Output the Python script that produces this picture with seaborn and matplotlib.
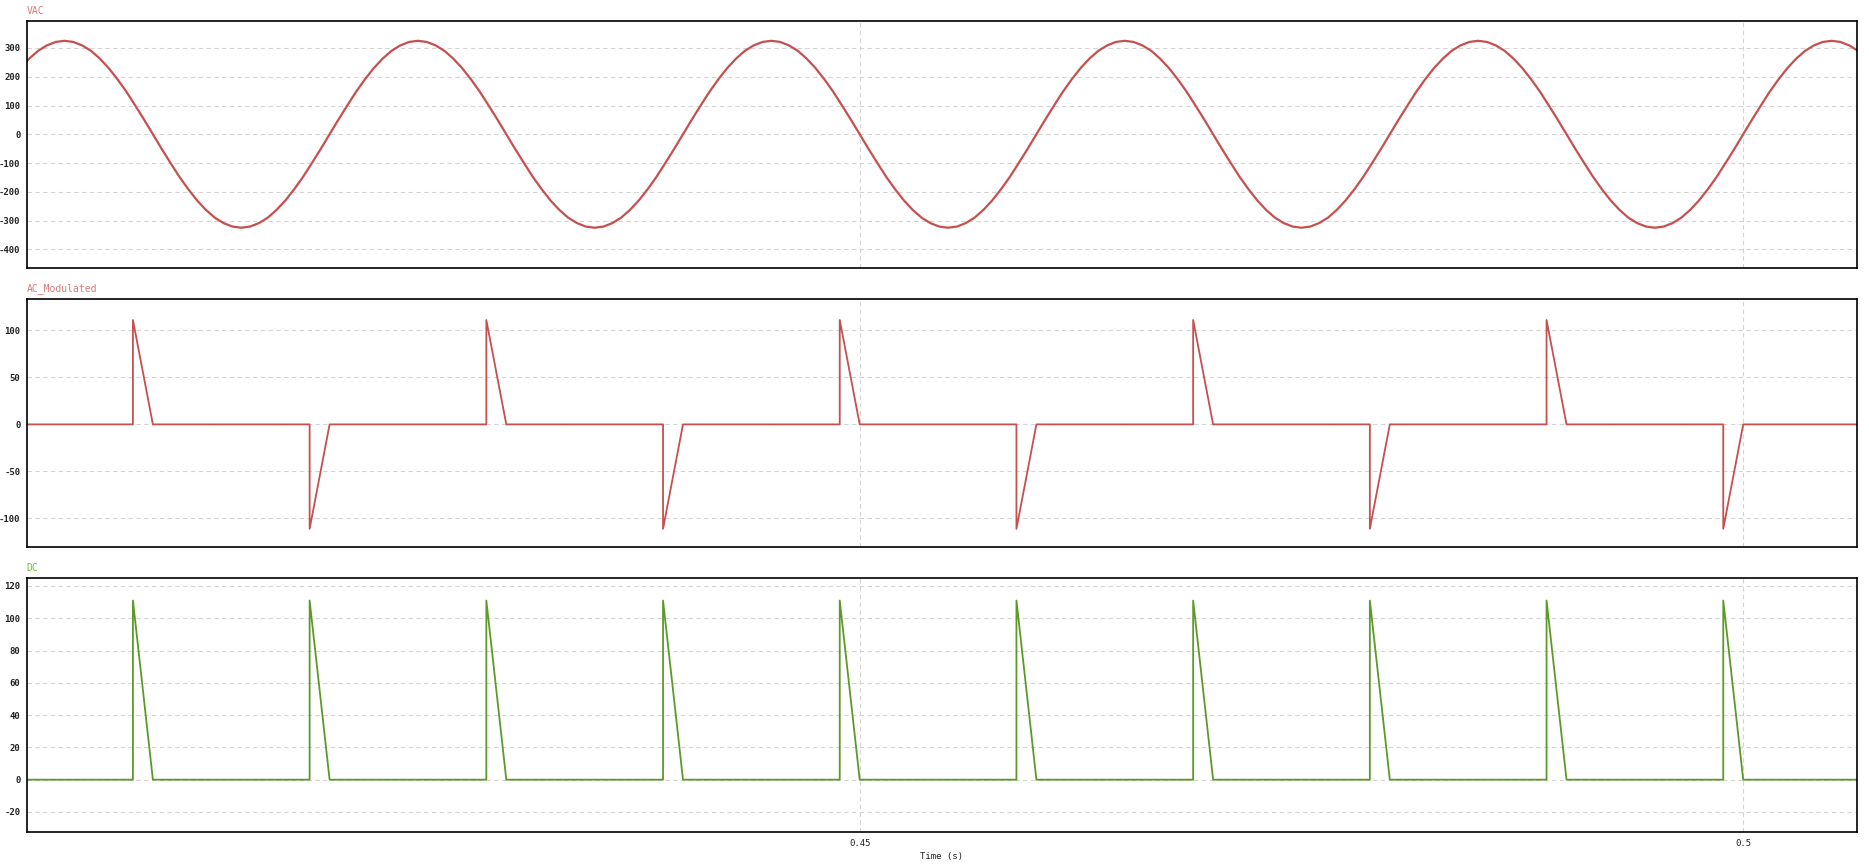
import numpy as np
import pandas as pd
import matplotlib
matplotlib.use("Agg")
import matplotlib.pyplot as plt
import seaborn as sns

# sampled readings, 0.5 ms apart, starting at t = 0.402 s
vac_t = np.arange(804, 1015) / 2000
vac_values = [
    191, 230, 263, 290, 309, 321, 325, 321, 309, 290, 263, 230, 191, 148, 100, 51,
    0, -51, -100, -148, -191, -230, -263, -290, -309, -321, -325, -321, -309, -290,
    -263, -230, -191, -148, -100, -51,
    0, 51, 100, 148, 191, 230, 263, 290, 309, 321, 325, 321, 309, 290, 263, 230,
    191, 148, 100, 51, 0, -51, -100, -148, -191, -230, -263, -290, -309, -321, -325,
    -321, -309, -290, -263, -230, -191, -148, -100, -51,
    0, 51, 100, 148, 191, 230, 263, 290, 309, 321, 325, 321, 309, 290, 263, 230,
    191, 148, 100, 51, 0, -51, -100, -148, -191, -230, -263, -290, -309, -321, -325,
    -321, -309, -290, -263, -230, -191, -148, -100, -51,
    0, 51, 100, 148, 191, 230, 263, 290, 309, 321, 325, 321, 309, 290, 263, 230,
    191, 148, 100, 51, 0, -51, -100, -148, -191, -230, -263, -290, -309, -321, -325,
    -321, -309, -290, -263, -230, -191, -148, -100, -51,
    0, 51, 100, 148, 191, 230, 263, 290, 309, 321, 325, 321, 309, 290, 263, 230,
    191, 148, 100, 51, 0, -51, -100, -148, -191, -230, -263, -290, -309, -321, -325,
    -321, -309, -290, -263, -230, -191, -148, -100, -51,
    0, 51, 100, 148, 191, 230, 263, 290, 309, 321, 325, 321, 309, 290, 263,
]

# pulse ends (zero crossings) and pulse heights
crossings = [0.41, 0.42, 0.43, 0.44, 0.45, 0.46, 0.47, 0.48, 0.49, 0.50]
ac_peaks = [111, -111, 111, -111, 111, -111, 111, -111, 111, -111]
dc_peaks = [111, 111, 111, 111, 111, 111, 111, 111, 111, 111]
pulse_width = 0.00113
t_first, t_last = 0.402, 0.507

x_ticks = [0.45, 0.5]
x_labels = ["0.45", "0.5"]
vac_ticks = [300, 200, 100, 0, -100, -200, -300, -400]
ac_ticks = [100, 50, 0, -50, -100]
dc_ticks = [120, 100, 80, 60, 40, 20, 0, -20]


def pulse_frame(peaks):
    xs, ys = [t_first], [0]
    for tc, p in zip(crossings, peaks):
        xs += [tc - pulse_width, tc - pulse_width, tc]
        ys += [0, p, 0]
    xs.append(t_last)
    ys.append(0)
    return pd.DataFrame({"t": xs, "v": ys})


vac_df = pd.DataFrame({"t": vac_t, "v": vac_values})
ac_df = pulse_frame(ac_peaks)
dc_df = pulse_frame(dc_peaks)

sns.set_style("white")
plt.rcParams["font.family"] = ["DejaVu Sans Mono", "DejaVu Sans"]

RED = "#c4504f"
GREEN = "#5b9a26"

fig = plt.figure(figsize=(18.69, 8.65), dpi=100)
left, width = 0.0143, 0.9791
ax1 = fig.add_axes([left, 0.6902, width, 0.2859])
ax2 = fig.add_axes([left, 0.3680, width, 0.2860])
ax3 = fig.add_axes([left, 0.0378, width, 0.2937])

sns.lineplot(data=vac_df, x="t", y="v", ax=ax1, color=RED, lw=1.6,
             sort=False, estimator=None)
sns.lineplot(data=ac_df, x="t", y="v", ax=ax2, color=RED, lw=1.3,
             sort=False, estimator=None)
sns.lineplot(data=dc_df, x="t", y="v", ax=ax3, color=GREEN, lw=1.3,
             sort=False, estimator=None)

panels = [
    (ax1, "VAC", "#d77a7a", vac_ticks, (-465, 395)),
    (ax2, "AC_Modulated", "#d77a7a", ac_ticks, (-130, 133)),
    (ax3, "DC", "#7cb342", dc_ticks, (-32.6, 124.8)),
]
for ax, name, tcolor, yt, ylim in panels:
    ax.set_xlim(0.40286, 0.50642)
    ax.set_ylim(*ylim)
    ax.set_yticks(yt)
    ax.set_yticklabels([str(v) for v in yt])
    ax.set_xticks(x_ticks)
    ax.grid(True, color="#d4d4d4", ls=(0, (4, 3)), lw=0.8)
    ax.set_axisbelow(True)
    for s in ax.spines.values():
        s.set_visible(True)
        s.set_color("black")
        s.set_linewidth(1.2)
    ax.tick_params(length=0, labelsize=6.5, colors="#222222", pad=4.5)
    for lab in ax.get_yticklabels():
        lab.set_fontweight("bold")
    ax.set_xlabel("")
    ax.set_ylabel("")
    ax.text(0.0, 1.02, name, transform=ax.transAxes, color=tcolor,
            fontsize=7, ha="left", va="bottom")
    if ax is not ax3:
        ax.set_xticklabels([])

ax3.set_xticklabels(x_labels)
ax3.set_xlabel("Time (s)", fontsize=6.5, color="#222222", labelpad=3)

fig.savefig("out.png", dpi=100)
